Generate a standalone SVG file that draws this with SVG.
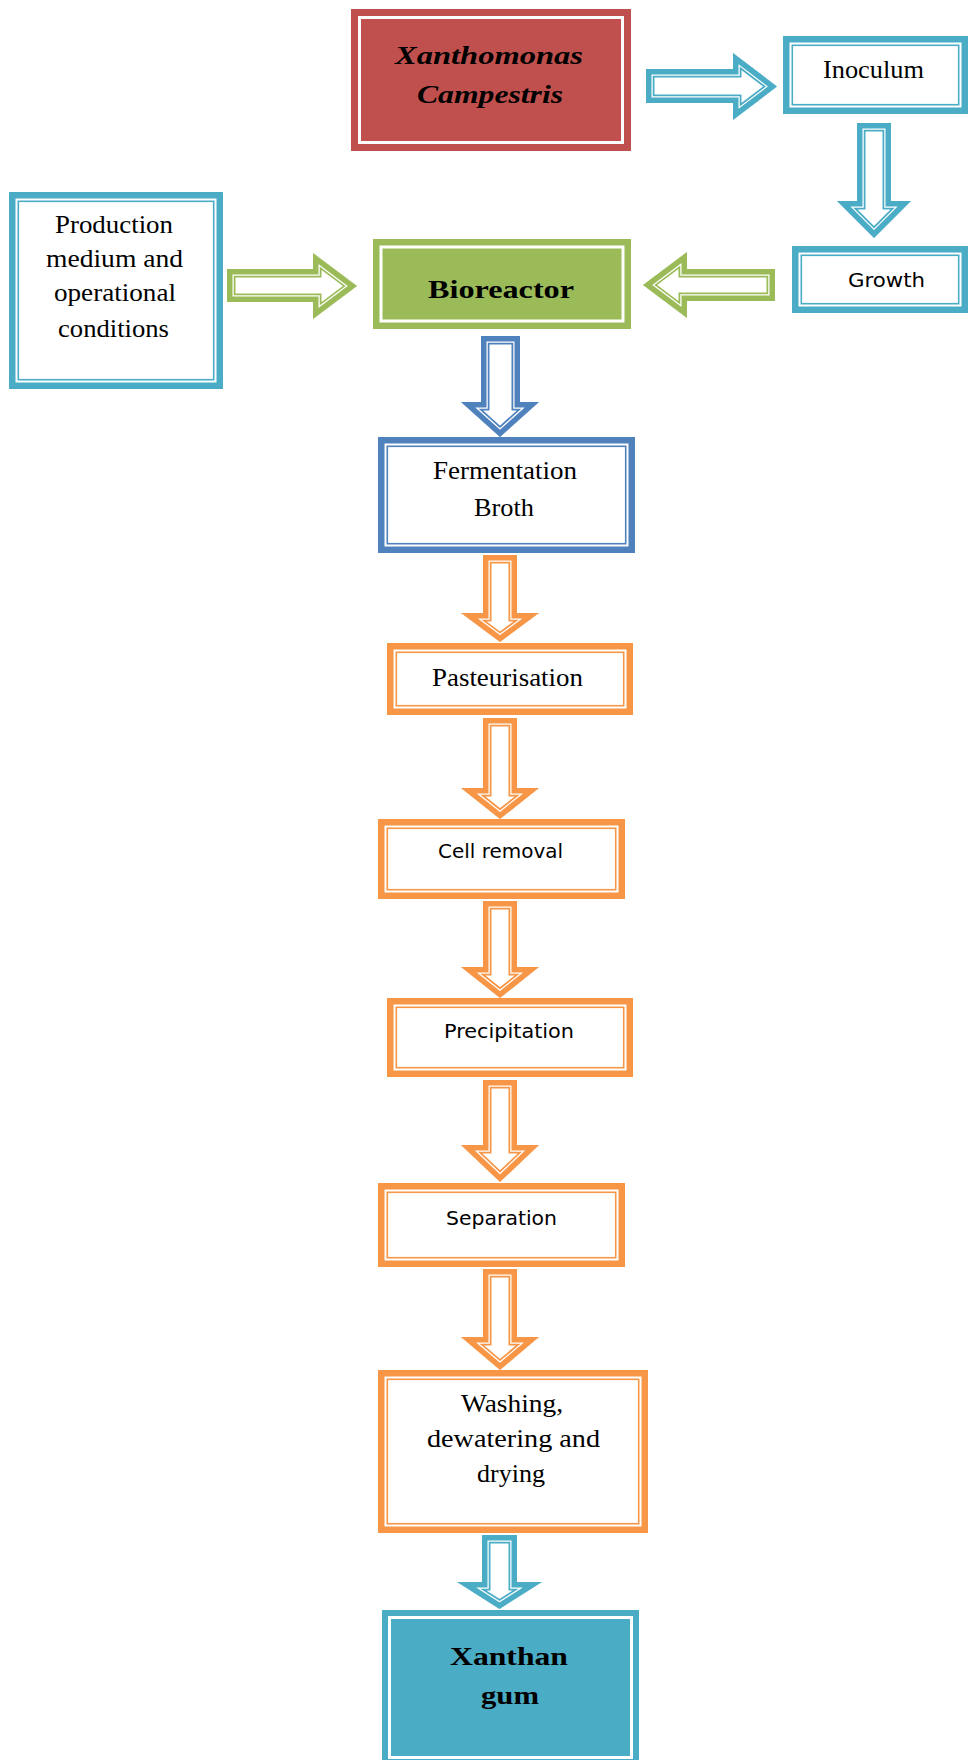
<svg xmlns="http://www.w3.org/2000/svg" width="969" height="1760" viewBox="0 0 969 1760">
<style>
.ob{stroke-width:6.5;fill:#fff}
.il{stroke-width:1.6;fill:none}
.wl{stroke:#fff;stroke-width:3;fill:none}
.blue{stroke:#4BACC6}
.dblue{stroke:#4F81BD}
.orange{stroke:#F79646}
.green{stroke:#9BBB59}
.l1{fill:#fff;stroke-width:17}
.l2{fill:none;stroke:#fff;stroke-width:13.5}
.l3{fill:none;stroke-width:11}
.arr use{stroke-linejoin:miter;stroke-miterlimit:10}
.s{font-family:"Liberation Serif","Times New Roman",serif;font-size:25px;fill:#000;text-anchor:middle}
.ss{font-family:"DejaVu Sans",Verdana,sans-serif;font-size:20px;fill:#000;text-anchor:middle}
.b{font-weight:bold}
</style>
<defs>
<path id="a1" d="M646,69H733V53L777,86.5L733,120V103H646Z"/>
<path id="a2" d="M857,123H891V201H911L874,238L837,201H857Z"/>
<path id="a3" d="M775,269H687V252L643,285L687,318V301H775Z"/>
<path id="a4" d="M227,269H313V253L357,286L313,319V302H227Z"/>
<path id="a5" d="M481,336H520V402H539L500,437L461,402H481Z"/>
<path id="a6" d="M483,555H517V613H539L500,642L461,613H483Z"/>
<path id="a7" d="M483,718H517V788H539L500,819L461,788H483Z"/>
<path id="a8" d="M483,901H517V967H539L500,998L461,967H483Z"/>
<path id="a9" d="M483,1080H517V1145H539L500,1182L461,1145H483Z"/>
<path id="a10" d="M483,1269H517V1337H539L500,1370L461,1337H483Z"/>
<path id="a11" d="M482,1535H517V1582H542L499.5,1609L457,1582H482Z"/>
<clipPath id="c1"><use href="#a1"/></clipPath>
<clipPath id="c2"><use href="#a2"/></clipPath>
<clipPath id="c3"><use href="#a3"/></clipPath>
<clipPath id="c4"><use href="#a4"/></clipPath>
<clipPath id="c5"><use href="#a5"/></clipPath>
<clipPath id="c6"><use href="#a6"/></clipPath>
<clipPath id="c7"><use href="#a7"/></clipPath>
<clipPath id="c8"><use href="#a8"/></clipPath>
<clipPath id="c9"><use href="#a9"/></clipPath>
<clipPath id="c10"><use href="#a10"/></clipPath>
<clipPath id="c11"><use href="#a11"/></clipPath>
</defs>
<rect width="969" height="1760" fill="#fff"/>

<g id="connectors" class="arr">
<g clip-path="url(#c1)" class="blue"><use href="#a1" class="l1"/><use href="#a1" class="l2"/><use href="#a1" class="l3"/></g>
<g clip-path="url(#c2)" class="blue"><use href="#a2" class="l1"/><use href="#a2" class="l2"/><use href="#a2" class="l3"/></g>
<g clip-path="url(#c3)" class="green"><use href="#a3" class="l1"/><use href="#a3" class="l2"/><use href="#a3" class="l3"/></g>
<g clip-path="url(#c4)" class="green"><use href="#a4" class="l1"/><use href="#a4" class="l2"/><use href="#a4" class="l3"/></g>
<g clip-path="url(#c5)" class="dblue"><use href="#a5" class="l1"/><use href="#a5" class="l2"/><use href="#a5" class="l3"/></g>
<g clip-path="url(#c6)" class="orange"><use href="#a6" class="l1"/><use href="#a6" class="l2"/><use href="#a6" class="l3"/></g>
<g clip-path="url(#c7)" class="orange"><use href="#a7" class="l1"/><use href="#a7" class="l2"/><use href="#a7" class="l3"/></g>
<g clip-path="url(#c8)" class="orange"><use href="#a8" class="l1"/><use href="#a8" class="l2"/><use href="#a8" class="l3"/></g>
<g clip-path="url(#c9)" class="orange"><use href="#a9" class="l1"/><use href="#a9" class="l2"/><use href="#a9" class="l3"/></g>
<g clip-path="url(#c10)" class="orange"><use href="#a10" class="l1"/><use href="#a10" class="l2"/><use href="#a10" class="l3"/></g>
<g clip-path="url(#c11)" class="blue"><use href="#a11" class="l1"/><use href="#a11" class="l2"/><use href="#a11" class="l3"/></g>
</g>

<g id="xanthomonas">
<rect x="351" y="9" width="280" height="142" fill="#C0504D"/>
<rect x="359.5" y="17.5" width="263" height="125" class="wl"/>
<text class="s b" font-style="italic" font-size="31" x="489" y="64" textLength="188" lengthAdjust="spacingAndGlyphs">Xanthomonas</text>
<text class="s b" font-style="italic" font-size="31" x="490" y="103" textLength="146" lengthAdjust="spacingAndGlyphs">Campestris</text>
</g>

<g id="inoculum">
<rect x="786.25" y="39.25" width="178.5" height="71.5" class="ob blue"/>
<rect x="792.3" y="45.3" width="166.4" height="59.4" class="il blue"/>
<text class="s" x="873.5" y="78" textLength="101" lengthAdjust="spacingAndGlyphs">Inoculum</text>
</g>

<g id="growth">
<rect x="795.25" y="249.25" width="169.5" height="60.5" class="ob blue"/>
<rect x="801.3" y="255.3" width="157.4" height="48.4" class="il blue"/>
<text class="ss" font-size="21" x="886.5" y="287" textLength="77" lengthAdjust="spacingAndGlyphs">Growth</text>
</g>

<g id="production">
<rect x="12.25" y="195.25" width="207.5" height="190.5" class="ob blue"/>
<rect x="18.3" y="201.3" width="195.4" height="178.4" class="il blue"/>
<text class="s" x="114" y="233" textLength="118" lengthAdjust="spacingAndGlyphs">Production</text>
<text class="s" x="114.5" y="267" textLength="137" lengthAdjust="spacingAndGlyphs">medium and</text>
<text class="s" x="115" y="301" textLength="122" lengthAdjust="spacingAndGlyphs">operational</text>
<text class="s" x="113.5" y="337" textLength="111" lengthAdjust="spacingAndGlyphs">conditions</text>
</g>

<g id="bioreactor">
<rect x="373" y="239" width="258" height="90" fill="#9BBB59"/>
<rect x="381" y="247" width="242" height="74" class="wl"/>
<text class="s b" font-size="31" x="501" y="298" textLength="146" lengthAdjust="spacingAndGlyphs">Bioreactor</text>
</g>

<g id="fermentation">
<rect x="381.25" y="440.25" width="250.5" height="109.5" class="ob dblue"/>
<rect x="387.3" y="446.3" width="238.4" height="97.4" class="il dblue"/>
<text class="s" x="505" y="479" textLength="144" lengthAdjust="spacingAndGlyphs">Fermentation</text>
<text class="s" x="504" y="516" textLength="60" lengthAdjust="spacingAndGlyphs">Broth</text>
</g>

<g id="pasteurisation">
<rect x="390.25" y="646.25" width="239.5" height="65.5" class="ob orange"/>
<rect x="396.3" y="652.3" width="227.4" height="53.4" class="il orange"/>
<text class="s" x="507.5" y="686" textLength="151" lengthAdjust="spacingAndGlyphs">Pasteurisation</text>
</g>

<g id="cell-removal">
<rect x="381.25" y="822.25" width="240.5" height="73.5" class="ob orange"/>
<rect x="387.3" y="828.3" width="228.4" height="61.4" class="il orange"/>
<text class="ss" x="500.5" y="858" textLength="125" lengthAdjust="spacingAndGlyphs">Cell removal</text>
</g>

<g id="precipitation">
<rect x="390.25" y="1001.25" width="239.5" height="72.5" class="ob orange"/>
<rect x="396.3" y="1007.3" width="227.4" height="60.4" class="il orange"/>
<text class="ss" x="509" y="1038" textLength="130" lengthAdjust="spacingAndGlyphs">Precipitation</text>
</g>

<g id="separation">
<rect x="381.25" y="1186.25" width="240.5" height="77.5" class="ob orange"/>
<rect x="387.3" y="1192.3" width="228.4" height="65.4" class="il orange"/>
<text class="ss" x="501.5" y="1225" textLength="111" lengthAdjust="spacingAndGlyphs">Separation</text>
</g>

<g id="washing">
<rect x="381.25" y="1373.25" width="263.5" height="156.5" class="ob orange"/>
<rect x="387.3" y="1379.3" width="251.4" height="144.4" class="il orange"/>
<text class="s" x="512" y="1412" textLength="102" lengthAdjust="spacingAndGlyphs">Washing,</text>
<text class="s" x="513.5" y="1447" textLength="173" lengthAdjust="spacingAndGlyphs">dewatering  and</text>
<text class="s" x="511" y="1482" textLength="68" lengthAdjust="spacingAndGlyphs">drying</text>
</g>

<g id="xanthan-gum">
<rect x="382" y="1610" width="257" height="155" fill="#4BACC6"/>
<rect x="389.5" y="1617.5" width="242" height="140" class="wl"/>
<text class="s b" font-size="29" x="509" y="1665" textLength="118" lengthAdjust="spacingAndGlyphs">Xanthan</text>
<text class="s b" font-size="29" x="510" y="1704" textLength="58" lengthAdjust="spacingAndGlyphs">gum</text>
</g>
</svg>
